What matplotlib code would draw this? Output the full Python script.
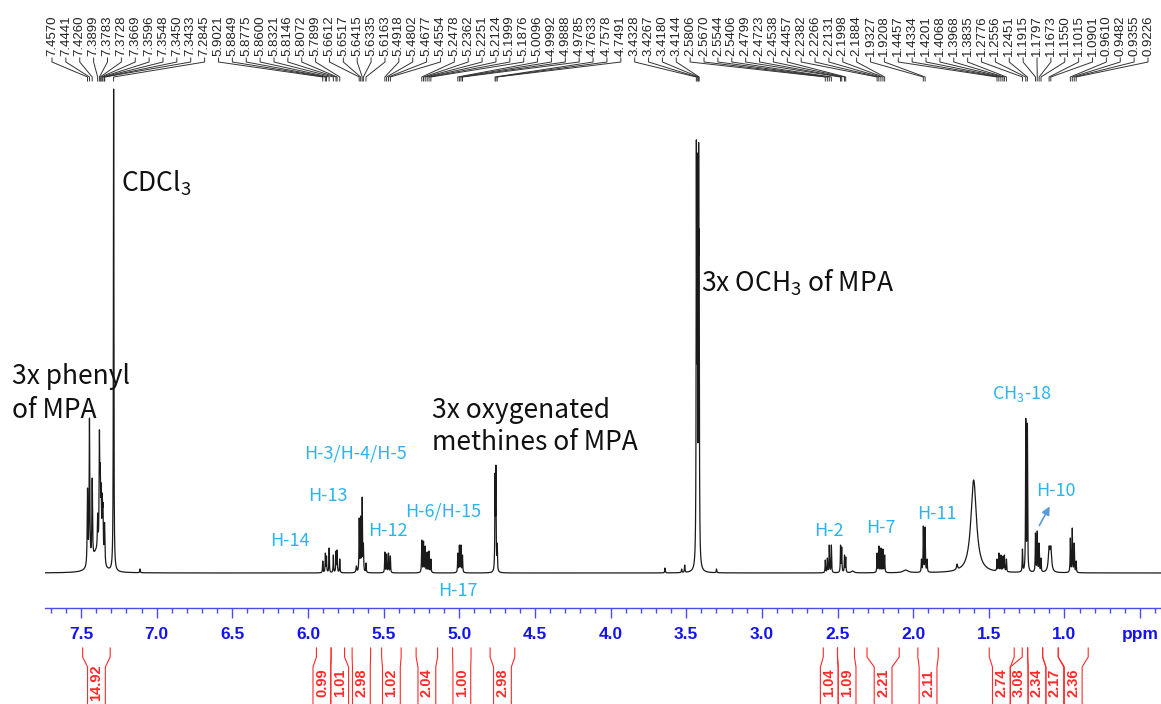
import numpy as np
import matplotlib
matplotlib.use("Agg")
import matplotlib.pyplot as plt
from matplotlib.transforms import blended_transform_factory

W, H = 1161, 704

# labelled 1H peaks (ppm) and their observed heights above the baseline
peak_ppm = [7.4570, 7.4441, 7.4260, 7.3899, 7.3783, 7.3728, 7.3669, 7.3596,
            7.3548, 7.3450, 7.3433, 7.2845,
            5.9021, 5.8849, 5.8775, 5.8600, 5.8321, 5.8146, 5.8072, 5.7899,
            5.6612, 5.6517, 5.6415, 5.6335, 5.6163,
            5.4918, 5.4802, 5.4677, 5.4554,
            5.2478, 5.2362, 5.2251, 5.2124, 5.1999, 5.1876,
            5.0096, 4.9992, 4.9888, 4.9785,
            4.7633, 4.7578, 4.7491,
            3.4328, 3.4267, 3.4180, 3.4144,
            2.5806, 2.5670, 2.5544, 2.5406, 2.4799, 2.4723, 2.4538, 2.4457,
            2.2382, 2.2266, 2.2131, 2.1998, 2.1884,
            1.9327, 1.9208,
            1.4457, 1.4334, 1.4201, 1.4068, 1.3968, 1.3835,
            1.2776, 1.2556, 1.2451,
            1.1915, 1.1797, 1.1673, 1.1550,
            1.1015, 1.0901,
            0.9610, 0.9482, 0.9355, 0.9226]
peak_height = [85, 155, 95, 60, 143, 110, 90, 80,
               70, 50, 45, 484,
               12, 20, 17, 25, 18, 22, 23, 14,
               55, 57, 76, 30, 10,
               21, 19, 20, 17,
               33, 32, 27, 21, 22, 14,
               20, 28, 28, 18,
               100, 108, 30,
               433, 420, 430, 340,
               13, 15, 28, 28, 28, 26, 18, 16,
               20, 27, 25, 24, 18,
               47, 46,
               14, 20, 18, 17, 18, 14,
               24, 155, 150,
               40, 42, 30, 15,
               27, 27,
               35, 45, 30, 12]

# unlabelled features: water, shoulders and small impurities
extra_ppm = [7.40, 7.11, 5.68, 3.64, 3.53, 3.51, 3.30, 2.40, 2.05, 1.945,
             1.908, 1.71, 1.60]
extra_height = [25, 4, 7, 5, 4, 8, 4, 2, 3, 14, 14, 9, 93]
extra_hwhm = [0.03, 0.002, 0.003, 0.002, 0.002, 0.002, 0.002, 0.01, 0.02,
              0.002, 0.002, 0.004, 0.022]

# integral regions (ppm, left to right) and values
integral_from = [7.489, 5.944, 5.847, 5.708, 5.513, 5.285, 5.044, 4.796,
                 2.594, 2.500, 2.305, 1.969, 1.497, 1.279, 1.243, 1.144, 1.041]
integral_to = [7.307, 5.847, 5.758, 5.586, 5.384, 5.143, 4.922, 4.633,
               2.500, 2.388, 2.092, 1.834, 1.332, 1.243, 1.144, 1.041, 0.843]
integral_val = ["14.92", "0.99", "1.01", "2.98", "1.02", "2.04", "1.00", "2.98",
                "1.04", "1.09", "2.21", "2.11", "2.74", "3.08", "2.34", "2.17",
                "2.36"]

major_ticks = [7.5, 7.0, 6.5, 6.0, 5.5, 5.0, 4.5, 4.0, 3.5, 3.0, 2.5, 2.0,
               1.5, 1.0, 0.5]

PPM_PX = 151.3          # pixels per ppm
X75 = 81                # pixel column of 7.5 ppm
AX_BOTTOM, AX_TOP = 608, 81
BASE = 573


def ppm_at(px):
    return 7.5 - (px - X75) / PPM_PX


def yax(py):
    return (AX_BOTTOM - py) / (AX_BOTTOM - AX_TOP)


def fx(px):
    return px / W


def fy(py):
    return 1 - py / H


def line_width(p):
    if 7.3 < p < 7.46:
        return 0.0025
    if 1.08 < p < 1.11:
        return 0.006
    return 0.0018


plt.rcParams["font.family"] = ["Liberation Sans", "DejaVu Sans"]
cjk = ["Noto Sans CJK SC", "DejaVu Sans"]
blue_txt = "#2db4ef"
axis_blue = "#4b4be6"

fig = plt.figure(figsize=(W / 100, H / 100), dpi=100)
ax = fig.add_axes([fx(45), (H - AX_BOTTOM) / H, (W - 45) / W,
                   (AX_BOTTOM - AX_TOP) / H])

# lorentzian amplitudes chosen so the summed trace hits each observed height
pos = np.array(peak_ppm + extra_ppm)
hw = np.array([line_width(p) for p in peak_ppm] + extra_hwhm)
target = np.array(peak_height + extra_height, dtype=float)
A = 1 / (1 + ((pos[:, None] - pos[None, :]) / hw[None, :]) ** 2)
amp = np.clip(np.linalg.solve(A, target), 0, None)

x = np.linspace(ppm_at(45), ppm_at(W), 40000)
y = np.zeros_like(x)
for p, w, a in zip(pos, hw, amp):
    y += a / (1 + ((x - p) / w) ** 2)
ax.plot(x, y, color="#1a1a1a", lw=0.9)

ax.set_xlim(ppm_at(45), ppm_at(W))
ax.set_ylim(-(AX_BOTTOM - BASE), BASE - AX_TOP)
for s in ["top", "left", "right"]:
    ax.spines[s].set_visible(False)
ax.spines["bottom"].set_color(axis_blue)
ax.spines["bottom"].set_linewidth(1.0)
ax.set_yticks([])
ax.set_xticks(major_ticks)
ax.set_xticklabels([f"{t:.1f}" for t in major_ticks[:-1]] + ["ppm"])
ax.set_xticks(np.round(np.arange(7.7, 0.35, -0.1), 1), minor=True)
ax.tick_params(axis="x", which="major", length=7, width=1, color=axis_blue,
               pad=7, labelsize=12.5, labelcolor="#1414f0")
ax.tick_params(axis="x", which="minor", length=3.5, width=1, color=axis_blue)
for lab in ax.get_xticklabels():
    lab.set_fontweight("bold")

tr = blended_transform_factory(ax.transData, ax.transAxes)

# peak pick labels spread evenly across the top
label_x = np.linspace(ppm_at(52), ppm_at(1148), len(peak_ppm))
for lx, p in zip(label_x, peak_ppm):
    ax.text(lx, yax(56), f"{p:.4f}", rotation=90, ha="center", va="bottom",
            fontsize=9.5, color="#222222", transform=tr, clip_on=False)
    ax.plot([lx, lx, p, p], [yax(58), yax(62), yax(77), yax(81)],
            color="#333333", lw=0.7, transform=tr, clip_on=False)

# integral brackets with label slots pushed apart where they collide
slot_w = 17.8 / PPM_PX
centers = [(a + b) / 2 for a, b in zip(integral_from, integral_to)]
for _ in range(200):
    for i in range(1, len(centers)):
        gap = (centers[i - 1] - slot_w / 2) - (centers[i] + slot_w / 2)
        if gap < 0:
            centers[i - 1] -= gap / 2
            centers[i] += gap / 2
red = "#ff2a2a"
for a, b, c, v in zip(integral_from, integral_to, centers, integral_val):
    for edge, slot in ((a, c + slot_w / 2), (b, c - slot_w / 2)):
        ax.plot([edge, edge, slot, slot], [yax(648), yax(657), yax(667), yax(710)],
                color=red, lw=0.8, transform=tr, clip_on=False)
    ax.text(c, yax(683), v, rotation=90, ha="center", va="center",
            fontsize=10.5, fontweight="bold", color=red, transform=tr,
            clip_on=False)

# assignments
big = dict(fontsize=19, color="#111111", family=cjk, va="center")
fig.text(fx(12), fy(377), "3x phenyl", **big)
fig.text(fx(12), fy(410), "of MPA", **big)
fig.text(fx(121), fy(183), r"CDCl$_\mathregular{3}$", **big)
fig.text(fx(701), fy(283), r"3x OCH$_\mathregular{3}$ of MPA", **big)
fig.text(fx(432), fy(410), "3x oxygenated", **big)
fig.text(fx(432), fy(442), "methines of MPA", **big)

small = dict(fontsize=13, color=blue_txt, family=cjk, ha="center", va="center")
fig.text(fx(355), fy(454), "H-3/H-4/H-5", **small)
fig.text(fx(328), fy(496), "H-13", **small)
fig.text(fx(290), fy(541), "H-14", **small)
fig.text(fx(388), fy(531), "H-12", **small)
fig.text(fx(443), fy(511), "H-6/H-15", **small)
fig.text(fx(458), fy(591), "H-17", **small)
fig.text(fx(829), fy(531), "H-2", **small)
fig.text(fx(881), fy(528), "H-7", **small)
fig.text(fx(937), fy(514), "H-11", **small)
fig.text(fx(1022), fy(394), r"CH$_\mathregular{3}$-18", **small)
fig.text(fx(1056), fy(491), "H-10", **small)
ax.annotate("", xy=(fx(1051), fy(504)), xycoords="figure fraction",
            xytext=(fx(1038), fy(528)), textcoords="figure fraction",
            arrowprops=dict(arrowstyle="-|>", color="#5b9bd5", lw=1.2,
                            mutation_scale=12))

fig.savefig("out.png", dpi=100)
